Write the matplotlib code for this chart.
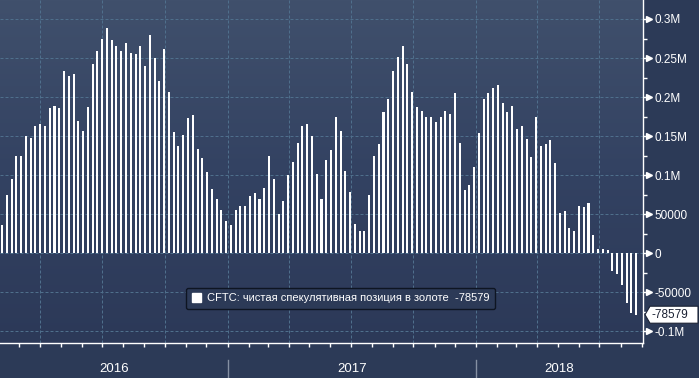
import matplotlib.pyplot as plt
import matplotlib.dates as mdates
import matplotlib.transforms as mtransforms
from matplotlib.patches import Patch, Polygon
from matplotlib.ticker import FixedLocator, NullFormatter
import numpy as np
import pandas as pd

plt.rcParams['font.family'] = ['Liberation Sans', 'DejaVu Sans']

# CFTC: net speculative position in gold, thousands of contracts, weekly
net_position_k = [
    36, 75, 95, 125, 124, 150, 148, 163, 166, 163,
    186, 189, 186, 234, 227, 229, 170, 156, 187, 242,
    259, 274, 288, 273, 265, 259, 269, 257, 255, 266,
    240, 280, 250, 220, 262, 206, 155, 138, 152, 173,
    177, 133, 122, 104, 82, 69, 55, 42, 36, 55,
    60, 60, 73, 77, 69, 83, 124, 95, 50, 67,
    100, 117, 141, 163, 166, 150, 101, 70, 119, 132,
    175, 156, 106, 78, 38, 28, 29, 75, 124, 140,
    181, 197, 233, 251, 266, 243, 206, 187, 182, 175,
    174, 168, 174, 182, 178, 205, 141, 81, 88, 110,
    154, 198, 205, 212, 215, 192, 181, 188, 159, 163,
    146, 123, 174, 138, 140, 145, 115, 52, 54, 32,
    28, 61, 59, 65, 24, 5, 5, 4, -22, -27,
    -41, -63, -77, -78.579,
]
last_value = -78579
first_week = "2016-02-05"
years = [2016, 2017, 2018]
ytick_values = [-100000, -50000, 0, 50000, 100000, 150000, 200000, 250000, 300000]
ytick_labels = ["-0.1M", "-50000", "0", "50000", "0.1M", "0.15M", "0.2M", "0.25M", "0.3M"]
legend_label = "CFTC: чистая спекулятивная позиция в золоте  -78579"

dates = pd.date_range(first_week, periods=len(net_position_k), freq="7D")
values = np.array(net_position_k) * 1000

W, H = 699, 378
fig = plt.figure(figsize=(W / 100, H / 100), dpi=100, facecolor="#2c3a57")
rect = [0, 35 / H, 643 / W, 343 / H]

# фон с градиентом
bg = fig.add_axes(rect, zorder=0)
grad = np.linspace(0, 1, 256).reshape(-1, 1)
from matplotlib.colors import LinearSegmentedColormap
cmap = LinearSegmentedColormap.from_list("bg", ["#2c3958", "#334262", "#40506c"])
bg.imshow(grad, aspect="auto", cmap=cmap, origin="lower", extent=[0, 1, 0, 1])
bg.axis("off")

ax = fig.add_axes(rect, zorder=1)
ax.patch.set_alpha(0)

ax.bar(dates, values, width=3, color="white", linewidth=0, zorder=3)

ax.set_xlim(pd.Timestamp("2016-02-02"), pd.Timestamp("2018-09-03"))
ax.set_ylim(-114800, 324300)

# оси
for s in ["left", "top"]:
    ax.spines[s].set_visible(False)
for s in ["right", "bottom"]:
    ax.spines[s].set_color("white")
    ax.spines[s].set_linewidth(1)

ax.xaxis.set_major_locator(mdates.MonthLocator(bymonth=[1, 4, 7, 10]))
ax.xaxis.set_minor_locator(mdates.MonthLocator())
ax.xaxis.set_major_formatter(NullFormatter())
ax.tick_params(axis="x", which="both", direction="out", length=3, width=1, color="white")

ax.yaxis.tick_right()
ax.yaxis.set_major_locator(FixedLocator(ytick_values))
ax.set_yticklabels(ytick_labels)
ax.yaxis.set_minor_locator(FixedLocator([v + 25000 for v in ytick_values[:-1]]))
ax.tick_params(axis="y", which="major", length=3, width=1, color="white",
               labelcolor="white", labelsize=8.5, pad=5)
ax.tick_params(axis="y", which="minor", length=3, width=1, color="white")

ax.grid(True, which="major", color="#4f6f8c", linestyle=(0, (3, 2)), linewidth=0.72, zorder=1)

# стрелки у делений
trans = mtransforms.blended_transform_factory(ax.transAxes, ax.transData)
ax.plot([1 + 5.5 / 643] * len(ytick_values), ytick_values, transform=trans,
        marker=">", ms=4, ls="none", color="white", clip_on=False, zorder=5)

# метка последнего значения
yc = ax.transData.transform((0, last_value))[1]
x0 = ax.transAxes.transform((1, 0))[0]
tag = [(x0 + 2, yc), (x0 + 7, yc + 8.5), (W - 1, yc + 8.5), (W - 1, yc - 8.5), (x0 + 7, yc - 8.5)]
tag = [(px / W, py / H) for px, py in tag]
fig.patches.append(Polygon(tag, closed=True, transform=fig.transFigure,
                           facecolor="white", edgecolor="#1a2133", linewidth=0.8))
fig.text((x0 + 9) / W, yc / H, f"{last_value}", color="#1a2133", fontsize=8.5,
         va="center", ha="left")

# легенда
leg = ax.legend(handles=[Patch(facecolor="white", edgecolor="white")], labels=[legend_label],
                loc="center", bbox_to_anchor=(0.530, 0.130), fontsize=8, labelcolor="white",
                facecolor="#2c3a57", edgecolor="#0e1522", framealpha=1, fancybox=True,
                handlelength=0.8, handleheight=0.8, handletextpad=0.6, borderpad=0.5)
leg.get_frame().set_linewidth(1)

# подписи годов
ytrans = mtransforms.blended_transform_factory(ax.transData, fig.transFigure)
x_lo, x_hi = ax.get_xlim()
for yr in years:
    a = max(mdates.date2num(pd.Timestamp(f"{yr}-01-01")), x_lo)
    b = min(mdates.date2num(pd.Timestamp(f"{yr + 1}-01-01")), x_hi)
    ax.text((a + b) / 2, 9 / H, str(yr), transform=ytrans, color="white", fontsize=9.5,
            ha="center", va="center", clip_on=False)
    if yr > years[0]:
        xs = mdates.date2num(pd.Timestamp(f"{yr}-01-01"))
        ax.plot([xs, xs], [0, 18 / H], transform=ytrans, color="#8590a3", lw=1, clip_on=False)

fig.savefig("out.png", dpi=100, facecolor=fig.get_facecolor())
